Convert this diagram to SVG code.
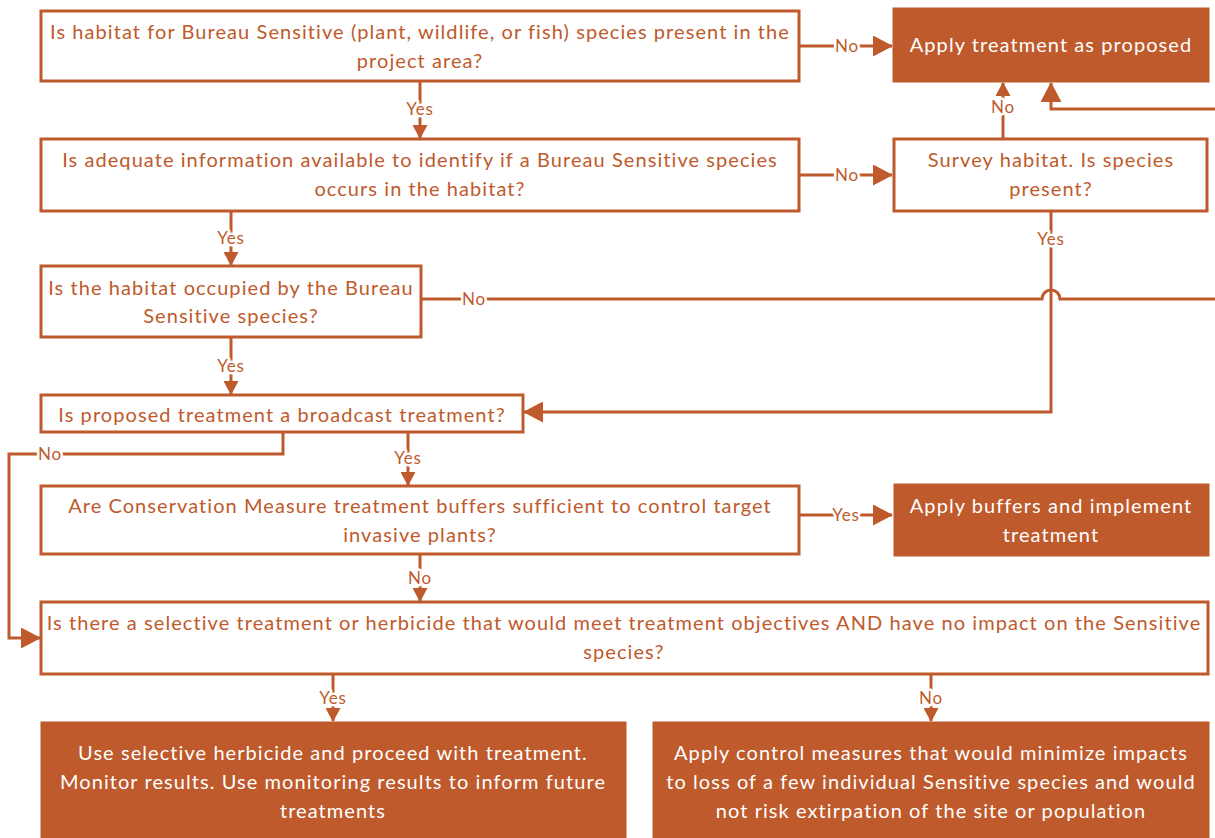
<svg xmlns="http://www.w3.org/2000/svg" width="1215" height="838" viewBox="0 0 1215 838">
<style>
.q{fill:#fff;stroke:#BE5A2C;stroke-width:3}
.a{fill:#BE5A2C;stroke:#BE5A2C;stroke-width:1}
.t{font-family:Lato,"Liberation Sans",sans-serif;font-size:20px;letter-spacing:1.07px;fill:#BE5A2C;text-anchor:middle}
.w{fill:#fff}
.c{fill:none;stroke:#BE5A2C;stroke-width:3}
.l{font-family:Lato,"Liberation Sans",sans-serif;font-size:17px;letter-spacing:0.8px;fill:#BE5A2C;text-anchor:middle;stroke:#fff;stroke-width:5;paint-order:stroke;stroke-linejoin:round}
</style>
<defs>
<marker id="big" markerUnits="userSpaceOnUse" markerWidth="20" markerHeight="21" viewBox="0 0 20 21" refX="19" refY="10.5" orient="auto"><path d="M0,0L20,10.5L0,21z" fill="#BE5A2C"/></marker>
<marker id="sm" markerUnits="userSpaceOnUse" markerWidth="14" markerHeight="15" viewBox="0 0 14 15" refX="13" refY="7.5" orient="auto"><path d="M0,0L14,7.5L0,15z" fill="#BE5A2C"/></marker>
</defs>
<rect width="1215" height="838" fill="#fff"/>
<g id="connectors">
<path class="c" d="M799,46H892" marker-end="url(#big)"/>
<text class="l" x="847" y="52">No</text>
<path class="c" d="M420,81V138" marker-end="url(#sm)"/>
<text class="l" x="420" y="115">Yes</text>
<path class="c" d="M799,175H892" marker-end="url(#big)"/>
<text class="l" x="847" y="181">No</text>
<path class="c" d="M231,211V265" marker-end="url(#sm)"/>
<text class="l" x="231" y="244">Yes</text>
<path class="c" d="M1003,139V83" marker-end="url(#sm)"/>
<text class="l" x="1003" y="113">No</text>
<path class="c" d="M421,299H1042A9,9 0 0 1 1060,299H1230V109H1051V83" marker-end="url(#big)"/>
<text class="l" x="474" y="305">No</text>
<path class="c" d="M1051,211V412H524" marker-end="url(#big)"/>
<text class="l" x="1051" y="245">Yes</text>
<path class="c" d="M231,337V394" marker-end="url(#sm)"/>
<text class="l" x="231" y="372">Yes</text>
<path class="c" d="M283,432V454H9V638H40" marker-end="url(#big)"/>
<text class="l" x="50" y="460">No</text>
<path class="c" d="M408,432V485" marker-end="url(#sm)"/>
<text class="l" x="408" y="464">Yes</text>
<path class="c" d="M799,515H892" marker-end="url(#big)"/>
<text class="l" x="846" y="521">Yes</text>
<path class="c" d="M420,554V601" marker-end="url(#sm)"/>
<text class="l" x="420" y="584">No</text>
<path class="c" d="M333,674V721" marker-end="url(#sm)"/>
<text class="l" x="333" y="704">Yes</text>
<path class="c" d="M931,674V721" marker-end="url(#sm)"/>
<text class="l" x="931" y="704">No</text>
</g>
<g id="q1"><rect class="q" x="41" y="11" width="758" height="70"/>
<text class="t" x="420" y="38.5">Is habitat for Bureau Sensitive (plant, wildlife, or fish) species present in the</text>
<text class="t" x="420" y="67.5">project area?</text></g>
<g id="applyProposed"><rect class="a" x="893" y="8" width="316" height="74"/>
<text class="t w" x="1051" y="52">Apply treatment as proposed</text></g>
<g id="q2"><rect class="q" x="41" y="139" width="758" height="72"/>
<text class="t" x="420" y="167">Is adequate information available to identify if a Bureau Sensitive species</text>
<text class="t" x="420" y="196">occurs in the habitat?</text></g>
<g id="survey"><rect class="q" x="894" y="139" width="313" height="72"/>
<text class="t" x="1051" y="167">Survey habitat. Is species</text>
<text class="t" x="1051" y="196">present?</text></g>
<g id="q3"><rect class="q" x="41" y="266" width="380" height="71"/>
<text class="t" x="231" y="295">Is the habitat occupied by the Bureau</text>
<text class="t" x="231" y="323">Sensitive species?</text></g>
<g id="q4"><rect class="q" x="41" y="395" width="482" height="37"/>
<text class="t" x="282" y="422">Is proposed treatment a broadcast treatment?</text></g>
<g id="q5"><rect class="q" x="41" y="486" width="758" height="68"/>
<text class="t" x="420" y="513">Are Conservation Measure treatment buffers sufficient to control target</text>
<text class="t" x="420" y="542">invasive plants?</text></g>
<g id="applyBuffers"><rect class="a" x="894" y="484" width="315" height="72"/>
<text class="t w" x="1051" y="513">Apply buffers and implement</text>
<text class="t w" x="1051" y="542">treatment</text></g>
<g id="q6"><rect class="q" x="41" y="602" width="1167" height="72"/>
<text class="t" x="624" y="630">Is there a selective treatment or herbicide that would meet treatment objectives AND have no impact on the Sensitive</text>
<text class="t" x="624" y="659">species?</text></g>
<g id="useSelective"><rect class="a" x="41" y="722" width="585" height="120"/>
<text class="t w" x="333" y="760">Use selective herbicide and proceed with treatment.</text>
<text class="t w" x="333" y="789">Monitor results. Use monitoring results to inform future</text>
<text class="t w" x="333" y="818">treatments</text></g>
<g id="applyControl"><rect class="a" x="653" y="722" width="556" height="120"/>
<text class="t w" x="931" y="760">Apply control measures that would minimize impacts</text>
<text class="t w" x="931" y="789">to loss of a few individual Sensitive species and would</text>
<text class="t w" x="931" y="818">not risk extirpation of the site or population</text></g>
</svg>
